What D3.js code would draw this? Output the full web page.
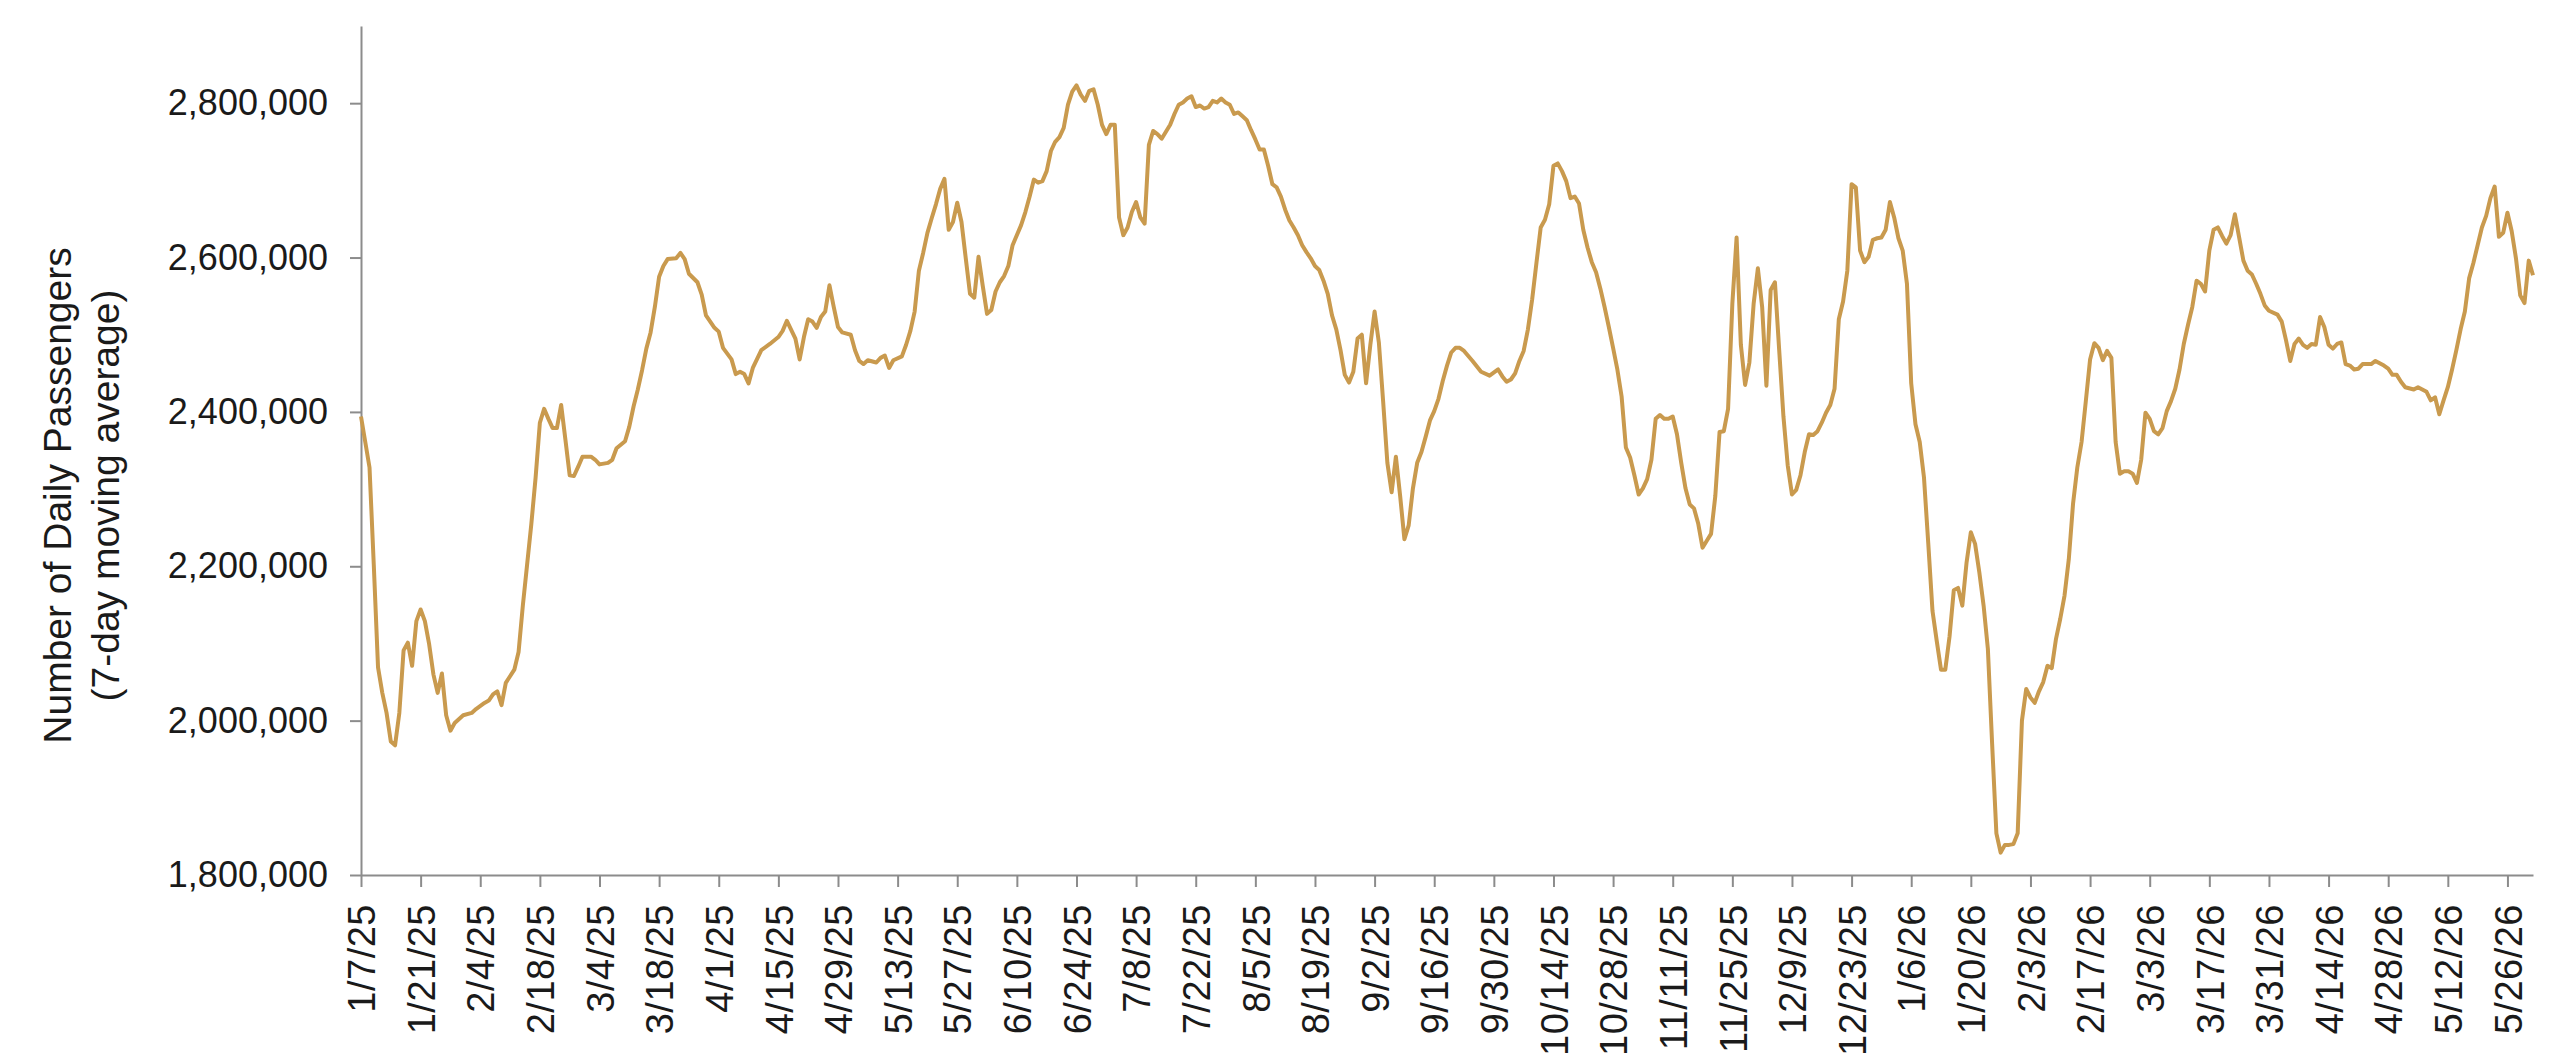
<!DOCTYPE html>
<html>
<head>
<meta charset="utf-8">
<script src="https://cdn.jsdelivr.net/npm/d3@7"></script>
<style>
    body { margin: 0; background: #ffffff; }
    svg { display: block; font-family: "Liberation Sans", Arial, Helvetica, sans-serif; }
    .axis path, .axis line { stroke: #8c8c8c; stroke-width: 2; }
    .axis text { fill: #1a1a1a; font-size: 36px; }
    .xaxis text { font-size: 38px; letter-spacing: 0.5px; }
    .ytitle { fill: #1a1a1a; font-size: 39px; }
</style>
</head>
<body>
<svg id="chart" width="2560" height="1063"></svg>
<script>
// Day offsets from the first date (1/7/25) and the 7-day moving average
var startDate = '1/7/25';
var endDate = '6/1/26';

var dayOffset = [
    0, 2, 3, 4, 5, 6, 7, 8, 9, 10, 11, 12, 13, 14, 15, 16, 17, 18, 19, 20, 21, 22, 24, 26, 27, 29, 30, 31, 32, 33, 34, 36, 37, 38, 39, 40,
    41, 42, 43, 44, 45, 46, 47, 48, 49, 50, 51, 52, 54, 55, 56, 58, 59, 60, 62, 63, 64, 65, 66, 67, 68, 69, 70, 71, 72, 74, 75, 76, 77, 79, 80,
    81, 83, 84, 85, 87, 88, 89, 90, 91, 92, 94, 96, 98, 99, 100,
    102, 103, 104, 105, 106, 107, 108, 109, 110, 111, 112, 113, 115, 116, 117, 118, 119, 121, 122, 123, 124, 125, 127, 128, 129, 130,
    131, 132, 133, 134, 135, 136, 137, 138, 139, 140, 141, 142, 143, 144, 145, 146, 147, 148, 149, 150, 151, 152, 153, 155, 156, 157, 158, 159, 160,
    161, 162, 163, 164, 165, 166, 167, 168, 169, 170, 171, 172, 173, 174, 175, 176, 177, 178, 179, 180, 181, 182, 183, 184, 185, 186, 187, 188, 189, 190,
    191, 192, 193, 194, 195, 196, 197, 198, 199, 200, 201, 202, 203,
    204, 205, 206, 207, 208, 209, 210, 211, 212, 213, 214, 215, 216, 217, 218, 219, 220, 221, 222, 223, 224, 225, 226, 227, 228, 229, 230,
    231, 232, 233, 234, 235, 236, 237, 238, 239, 240, 241, 242, 243, 244, 245, 246, 247, 248, 249, 250, 251, 252, 253, 254, 255, 256, 257, 258, 259,
    261, 263, 265, 267, 268, 269, 270, 271, 272, 273, 274, 275, 276, 277, 278, 279, 280, 281, 282, 283, 284, 285, 286, 287, 288, 289, 290,
    291, 292, 293, 294, 295, 296, 297, 298, 299, 300, 301, 302, 303, 304, 305, 306,
    307, 308, 309, 310, 311, 312, 313, 314, 315, 316, 317, 318, 319, 320, 321, 322, 323, 324, 325, 326, 327, 328, 329, 330,
    331, 332, 333, 334, 335, 336, 337, 338, 339, 340, 341, 342, 343, 344, 345, 346, 347, 348, 349, 350, 351, 352, 353, 354, 355, 356, 357, 358, 359, 360,
    361, 362, 363, 364, 365, 366, 367, 368, 369, 370, 371, 372, 373, 374, 375, 376, 377, 378, 379, 380, 381, 382, 383, 384, 385, 386, 387, 388, 389, 390,
    391, 392, 393, 394, 395, 396, 397, 398, 399, 400, 401, 402, 403, 404, 405, 406, 407, 408,
    409, 410, 411, 412, 413, 414, 415, 416, 417, 418, 419, 420, 421, 422, 423, 424, 425, 426, 427, 428, 429, 430,
    431, 432, 433, 434, 435, 436, 437, 438, 439, 440, 441, 442, 443, 444, 445, 446, 447, 448, 450, 451, 452, 453, 454, 455, 456, 457, 458, 459, 460,
    461, 462, 463, 464, 465, 466, 467, 468, 469, 470, 472, 473, 475, 476, 477, 478, 479, 480, 482, 483, 485, 486, 487, 488, 489, 490,
    491, 492, 493, 494, 495, 496, 497, 498, 499, 500, 501, 502, 503, 504, 505, 506, 507, 508, 509, 510
];

var passengers = [
    2394000, 2328000, 2202000, 2069000, 2036000, 2010000, 1973000, 1968000, 2010000, 2091000, 2101000, 2071000, 2129000, 2144000, 2129000, 2099000, 2060000, 2036000, 2061000, 2007000, 1987000, 1997000, 2007000, 2010000, 2015000, 2023000, 2026000, 2034000, 2038000, 2020000, 2049000, 2066000, 2089000, 2149000, 2202000, 2255000,
    2315000, 2386000, 2404000, 2391000, 2379000, 2379000, 2409000, 2364000, 2318000, 2317000, 2329000, 2342000, 2342000, 2338000, 2332000, 2334000, 2338000, 2353000, 2362000, 2381000, 2407000, 2429000, 2454000, 2482000, 2503000, 2536000, 2575000, 2589000, 2598000, 2599000, 2606000, 2598000, 2579000, 2568000, 2552000,
    2525000, 2509000, 2504000, 2483000, 2468000, 2449000, 2452000, 2449000, 2437000, 2457000, 2480000, 2488000, 2497000, 2505000, 2518000,
    2495000, 2468000, 2497000, 2520000, 2517000, 2509000, 2523000, 2530000, 2564000, 2536000, 2510000, 2503000, 2500000, 2480000, 2466000, 2462000, 2467000, 2464000, 2470000, 2473000, 2457000, 2467000, 2472000, 2487000, 2505000, 2530000,
    2583000, 2606000, 2632000, 2651000, 2669000, 2689000, 2702000, 2636000, 2646000, 2671000, 2646000, 2599000, 2553000, 2548000, 2601000, 2563000, 2527000, 2532000, 2556000, 2568000, 2576000, 2589000, 2616000, 2642000, 2659000, 2679000, 2701000, 2697000, 2699000,
    2712000, 2738000, 2750000, 2756000, 2768000, 2798000, 2815000, 2823000, 2811000, 2803000, 2816000, 2818000, 2798000, 2772000, 2760000, 2772000, 2772000, 2652000, 2629000, 2639000, 2659000, 2672000, 2652000, 2644000, 2746000, 2764000, 2760000, 2754000, 2763000, 2772000,
    2786000, 2798000, 2801000, 2806000, 2809000, 2795000, 2797000, 2793000, 2795000, 2803000, 2801000, 2806000, 2801000,
    2798000, 2786000, 2788000, 2783000, 2778000, 2765000, 2753000, 2740000, 2740000, 2719000, 2695000, 2691000, 2679000, 2662000, 2648000, 2639000, 2629000, 2616000, 2607000, 2599000, 2589000, 2584000, 2570000, 2553000, 2525000, 2507000, 2480000,
    2448000, 2438000, 2452000, 2495000, 2500000, 2437000, 2487000, 2530000, 2490000, 2414000, 2334000, 2296000, 2342000, 2291000, 2235000, 2253000, 2301000, 2334000, 2348000, 2368000, 2389000, 2401000, 2417000, 2440000, 2460000, 2477000, 2483000, 2483000, 2479000,
    2466000, 2452000, 2447000, 2455000, 2446000, 2439000, 2442000, 2450000, 2466000, 2479000, 2507000, 2546000, 2593000, 2639000, 2649000, 2669000, 2719000, 2722000, 2712000, 2699000, 2677000, 2679000, 2670000, 2636000, 2613000, 2594000, 2581000,
    2560000, 2536000, 2510000, 2483000, 2455000, 2420000, 2354000, 2341000, 2318000, 2293000, 2301000, 2313000, 2338000, 2391000, 2396000, 2391000,
    2391000, 2394000, 2371000, 2334000, 2301000, 2280000, 2275000, 2255000, 2224000, 2233000, 2242000, 2291000, 2374000, 2375000, 2404000, 2540000, 2626000, 2487000, 2435000, 2464000, 2540000, 2586000, 2536000, 2434000,
    2558000, 2568000, 2480000, 2394000, 2331000, 2293000, 2299000, 2318000, 2348000, 2371000, 2370000, 2375000, 2386000, 2399000, 2409000, 2430000, 2520000, 2543000, 2583000, 2695000, 2691000, 2609000, 2594000, 2601000, 2623000, 2625000, 2626000, 2636000, 2672000, 2652000,
    2625000, 2609000, 2566000, 2437000, 2384000, 2361000, 2315000, 2230000, 2142000, 2103000, 2066000, 2066000, 2109000, 2169000, 2172000, 2149000, 2205000, 2244000, 2229000, 2192000, 2149000, 2093000, 1970000, 1854000, 1829000, 1839000, 1839000, 1840000, 1854000, 2000000,
    2041000, 2030000, 2023000, 2038000, 2050000, 2071000, 2068000, 2106000, 2132000, 2162000, 2209000, 2281000, 2328000, 2361000, 2414000, 2468000, 2489000, 2483000,
    2467000, 2479000, 2470000, 2361000, 2320000, 2323000, 2323000, 2320000, 2308000, 2338000, 2399000, 2391000, 2375000, 2371000, 2379000, 2401000, 2414000, 2430000, 2455000, 2488000, 2513000, 2536000,
    2570000, 2566000, 2556000, 2609000, 2636000, 2639000, 2628000, 2618000, 2629000, 2656000, 2626000, 2596000, 2583000, 2578000, 2566000, 2553000, 2538000, 2531000, 2526000, 2517000, 2493000, 2466000, 2488000, 2495000, 2487000, 2483000, 2488000, 2487000, 2523000,
    2510000, 2487000, 2482000, 2488000, 2490000, 2462000, 2460000, 2455000, 2456000, 2462000, 2462000, 2466000, 2460000, 2456000, 2448000, 2448000, 2439000, 2432000, 2429000, 2432000, 2426000, 2415000, 2419000, 2397000, 2415000, 2432000,
    2455000, 2480000, 2507000, 2530000, 2573000, 2593000, 2616000, 2639000, 2654000, 2677000, 2692000, 2627000, 2632000, 2658000, 2634000, 2599000, 2551000, 2541000, 2596000, 2577000
];

var xTickLabels = [
    '1/7/25', '1/21/25', '2/4/25', '2/18/25', '3/4/25', '3/18/25', '4/1/25', '4/15/25', '4/29/25', '5/13/25',
    '5/27/25', '6/10/25', '6/24/25', '7/8/25', '7/22/25', '8/5/25', '8/19/25', '9/2/25', '9/16/25', '9/30/25',
    '10/14/25', '10/28/25', '11/11/25', '11/25/25', '12/9/25', '12/23/25', '1/6/26', '1/20/26', '2/3/26', '2/17/26',
    '3/3/26', '3/17/26', '3/31/26', '4/14/26', '4/28/26', '5/12/26', '5/26/26'
];

var yTicks = [1800000, 2000000, 2200000, 2400000, 2600000, 2800000];
var yMin = 1800000, yMax = 2900000;

var parseDate = d3.timeParse('%m/%d/%y');
var start = parseDate(startDate);

var series = dayOffset.map(function(d, i) {
    return {date: d3.timeDay.offset(start, d), value: passengers[i]};
});

var svg = d3.select('#chart');

// plot area edges in page pixels
var plot = {l: 361, r: 2533, t: 26, b: 875};

var xScale = d3.scaleTime()
    .domain([start, parseDate(endDate)])
    .range([plot.l, plot.r]);

var yScale = d3.scaleLinear()
    .domain([yMin, yMax])
    .range([plot.b, plot.t]);

// x axis
var xAxisG = svg.append('g')
    .attr('class', 'axis xaxis')
    .attr('transform', 'translate(0,' + plot.b + ')')
    .call(d3.axisBottom(xScale)
        .tickValues(xTickLabels.map(parseDate))
        .tickSize(12)
        .tickSizeOuter(0)
        .tickFormat(function(d, i) { return xTickLabels[i]; }));

xAxisG.selectAll('.tick text')
    .attr('transform', 'rotate(-90)')
    .attr('x', -29)
    .attr('y', 0)
    .attr('dy', '0.36em')
    .style('text-anchor', 'end');

// y axis
svg.append('g')
    .attr('class', 'axis')
    .attr('transform', 'translate(' + plot.l + ',0)')
    .call(d3.axisLeft(yScale)
        .tickValues(yTicks)
        .tickSize(11)
        .tickSizeOuter(0)
        .tickPadding(22)
        .tickFormat(d3.format(',')));

// y axis title, two lines
var title = svg.append('text')
    .attr('class', 'ytitle')
    .attr('transform', 'rotate(-90)')
    .style('text-anchor', 'middle');

title.append('tspan')
    .attr('x', -(plot.t + plot.b) / 2 - 45)
    .attr('y', 71)
    .text('Number of Daily Passengers');

title.append('tspan')
    .attr('x', -(plot.t + plot.b) / 2 - 45)
    .attr('y', 119)
    .text('(7-day moving average)');

// the line
var line = d3.line()
    .x(function(d) { return xScale(d.date); })
    .y(function(d) { return yScale(d.value); });

svg.append('path')
    .datum(series)
    .attr('d', line)
    .style('fill', 'none')
    .style('stroke', '#c99a4e')
    .style('stroke-width', 4)
    .style('stroke-linejoin', 'round');
</script>
</body>
</html>
